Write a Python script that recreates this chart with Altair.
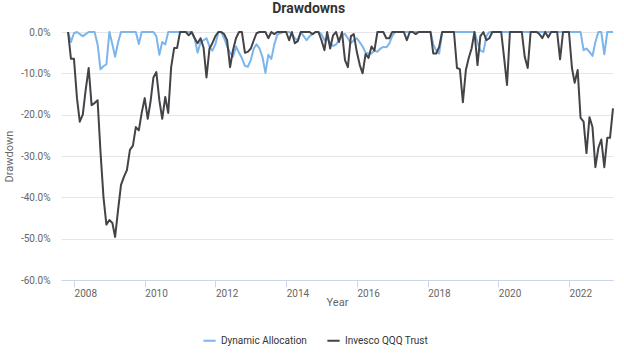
import altair as alt
import pandas as pd

series_names = ["Dynamic Allocation", "Invesco QQQ Trust"]
series_colors = ["#7cb5ec", "#434348"]
first_month = "2007-10"
year_ticks = [2008, 2010, 2012, 2014, 2016, 2018, 2020, 2022]
y_ticks = [-60, -50, -40, -30, -20, -10, 0]

# monthly drawdowns (%), Oct 2007 .. Mar 2023
qqq_drawdown = [
    0, -6.5, -6.5,
    -16, -21.7, -20, -14, -8.7, -17.7, -17.2, -16.5, -29, -40, -46.6, -45.5,
    -46.2, -49.6, -43, -37, -35, -33.4, -28.5, -27.5, -23, -23.8, -19.5, -16,
    -21, -17, -11, -9.7, -16.5, -21, -15.7, -19.6, -8.5, -3.9, -3.9, 0,
    0, 0, -0.8, 0, -1.5, -2.7, -1.5, -3.8, -11, -4, -2.7, -1,
    0, 0, -0.5, -2, -8.5, -4.4, -1.5, 0, 0, -5, -4.8, -4,
    -2, -0.3, 0, 0, 0, -1.5, 0, -0.5, 0, 0, 0, 0,
    -2, 0, -2.7, -2.2, 0, 0, 0, 0, -0.5, 0, 0, -2,
    -4.4, 0, -4, -0.8, 0, -2.4, 0, -6.8, -8.5, -1, -0.5, -4.8,
    -8, -10, -5.3, -6.3, -3.5, -4.5, 0, 0, 0, -1.5, -1.5, 0,
    0, 0, 0, 0, -2, 0, 0, -0.5, 0, 0, 0, 0,
    0, -5.2, -5.2, -3.6, 0, 0, 0, 0, 0, -8.7, -9, -17,
    -9.2, -6.4, -4, 0, -8, -1, 0, -2, -1.5, 0, 0, 0,
    0, -6, -12.8, 0, 0, 0, 0, 0, -6, -8.7, 0, 0,
    0, -0.5, -1.5, 0, -1.3, 0, 0, 0, -6.6, 0, 0, 0,
    -8.7, -12.3, -9.2, -20.8, -21.7, -29.3, -20.6, -23, -32.7, -28, -26, -32.7,
    -25.6, -25.6, -18.5,
]

dynamic_drawdown = [
    0, -2.4, -0.3,
    0, -0.5, -1, -0.5, 0, 0, 0, -3, -9, -8.3, -7.8, 0,
    -3, -6, -2.5, 0, 0, 0, 0, 0, 0, -2.9, 0, 0,
    0, 0, 0, -1, -5.5, -2.4, -3, 0, 0, 0, 0, 0,
    0, 0, 0, 0, -1.5, -5, -2.5, -2, -1.5, -3.5, -4.5, -3,
    0, 0, -1.5, -3.5, -5, -6, -3.5, -5, -6.3, -8.2, -8.4, -6.8,
    -4, -3, -4, -6, -9.9, -5.5, -6.5, -3, -0.7, -0.3, 0, 0,
    0, -0.5, -1.5, -2, 0, -1, -2, -1, -0.5, 0, 0, -0.5,
    -2, -1.5, -2.7, -3.4, -3, -2, -0.7, -0.5, -1.5, -2.7, -2, -1.5,
    -2.5, -3.5, -5, -5.2, -5.2, -4.5, -4.8, -4, -3.6, -3.7, -2.8, -1,
    0, 0, 0, 0, 0, 0, 0, 0, 0, 0, 0, 0,
    0, -3, -4.5, -5.2, 0, 0, 0, 0, 0, 0, 0, 0,
    0, 0, 0, 0, -2.5, -4.5, -4.8, -1, 0, 0, 0, 0,
    0, 0, 0, 0, 0, 0, 0, 0, 0, 0, 0, 0,
    0, 0, 0, 0, 0, 0, 0, 0, 0, 0, 0, 0,
    0, 0, 0, 0, -4.4, -4, -4.8, -5.8, -2.4, 0, 0, -5.4,
    0, 0, 0,
]

months = pd.period_range(first_month, periods=len(qqq_drawdown), freq="M")
dates = [p.to_timestamp(how="end").strftime("%Y-%m-%d") for p in months]

rows = []
for name, vals in zip(series_names, [dynamic_drawdown, qqq_drawdown]):
    for d, v in zip(dates, vals):
        rows.append({"date": d, "drawdown": v, "series": name})
df = pd.DataFrame(rows)

FONT = "Roboto"

chart = alt.Chart(df).mark_line(strokeWidth=2, strokeJoin="round").encode(
    x=alt.X(
        "date:T",
        title="Year",
        scale=alt.Scale(domain=[alt.DateTime(year=2007, month=8, date=19),
                                alt.DateTime(year=2023, month=3, date=31)]),
        axis=alt.Axis(
            values=[alt.DateTime(year=y, month=1, date=1) for y in year_ticks],
            format="%Y", labelAlign="left", labelPadding=1, labelFontSize=10,
            labelColor="#666666", grid=False, domainColor="#ccd6eb",
            tickColor="#ccd6eb", tickSize=7, titleFontSize=11,
            titleFontWeight="normal", titleColor="#666666", titlePadding=-2,
        ),
    ),
    y=alt.Y(
        "drawdown:Q",
        title="Drawdown",
        scale=alt.Scale(domain=[-60, 0], nice=False),
        axis=alt.Axis(
            values=y_ticks,
            labelExpr="datum.value == 0 ? '0.0%' : '-' + format(-datum.value, '.1f') + '%'",
            ticks=False, tickSize=0, domain=False, labelPadding=11,
            labelFontSize=10, labelColor="#666666", gridColor="#e6e6e6",
            titleFontSize=11, titleFontWeight="normal", titleColor="#666666",
            titlePadding=6,
        ),
    ),
    color=alt.Color(
        "series:N",
        scale=alt.Scale(domain=series_names, range=series_colors),
        legend=alt.Legend(
            title=None, orient="none", direction="horizontal",
            legendX=141, legendY=301, symbolType="stroke",
            symbolStrokeWidth=2, symbolSize=150, labelFontSize=10,
            labelColor="#333333", columnPadding=16, padding=0,
        ),
    ),
).properties(
    width=552,
    height=248,
    title=alt.TitleParams("Drawdowns", fontSize=14, fontWeight="bold",
                          color="#333333", anchor="middle", frame="bounds",
                          offset=11),
    padding={"left": 3, "top": 2, "right": 5, "bottom": 5},
).configure(font=FONT).configure_view(stroke=None)

chart.save("out.html", embed_options={"renderer": "svg", "actions": False})
